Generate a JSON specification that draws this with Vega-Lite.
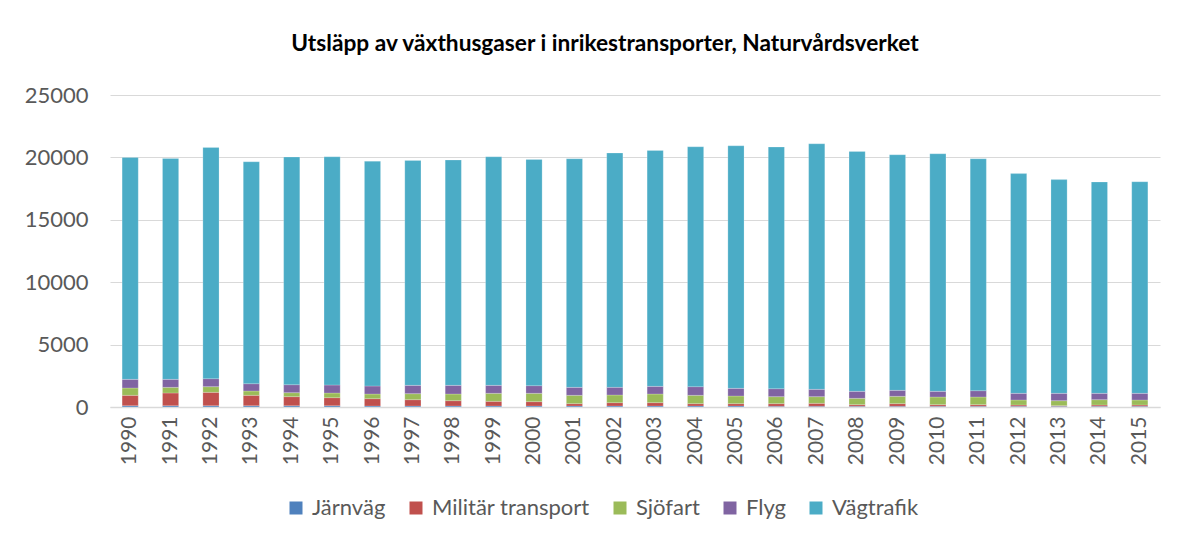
{
  "$schema": "https://vega.github.io/schema/vega-lite/v6.json",
  "width": 1050,
  "height": 312,
  "padding": {"left": 24, "top": 33, "right": 20, "bottom": 5},
  "background": "white",
  "config": {
    "font": "Lato",
    "view": {"stroke": null}
  },
  "title": {
    "text": "Utsläpp av växthusgaser i inrikestransporter, Naturvårdsverket",
    "fontSize": 22.7,
    "fontWeight": "bold",
    "color": "#000000",
    "anchor": "middle",
    "dx": -30,
    "offset": 28
  },
  "data": {
    "values": [
      {"year": "1990", "Järnväg": 100, "Militär transport": 835, "Sjöfart": 587, "Flyg": 694, "Vägtrafik": 17784},
      {"year": "1991", "Järnväg": 100, "Militär transport": 1021, "Sjöfart": 454, "Flyg": 641, "Vägtrafik": 17704},
      {"year": "1992", "Järnväg": 100, "Militär transport": 1075, "Sjöfart": 454, "Flyg": 641, "Vägtrafik": 18530},
      {"year": "1993", "Järnväg": 100, "Militär transport": 835, "Sjöfart": 347, "Flyg": 587, "Vägtrafik": 17781},
      {"year": "1994", "Järnväg": 100, "Militär transport": 728, "Sjöfart": 320, "Flyg": 641, "Vägtrafik": 18241},
      {"year": "1995", "Järnväg": 100, "Militär transport": 648, "Sjöfart": 373, "Flyg": 641, "Vägtrafik": 18288},
      {"year": "1996", "Järnväg": 80, "Militär transport": 588, "Sjöfart": 373, "Flyg": 641, "Vägtrafik": 18018},
      {"year": "1997", "Järnväg": 80, "Militär transport": 507, "Sjöfart": 481, "Flyg": 667, "Vägtrafik": 18025},
      {"year": "1998", "Järnväg": 80, "Militär transport": 427, "Sjöfart": 534, "Flyg": 694, "Vägtrafik": 18055},
      {"year": "1999", "Järnväg": 80, "Militär transport": 374, "Sjöfart": 641, "Flyg": 640, "Vägtrafik": 18315},
      {"year": "2000", "Järnväg": 80, "Militär transport": 347, "Sjöfart": 668, "Flyg": 614, "Vägtrafik": 18131},
      {"year": "2001", "Järnväg": 80, "Militär transport": 187, "Sjöfart": 668, "Flyg": 640, "Vägtrafik": 18315},
      {"year": "2002", "Järnväg": 80, "Militär transport": 267, "Sjöfart": 614, "Flyg": 614, "Vägtrafik": 18775},
      {"year": "2003", "Järnväg": 80, "Militär transport": 267, "Sjöfart": 694, "Flyg": 614, "Vägtrafik": 18905},
      {"year": "2004", "Järnväg": 80, "Militär transport": 187, "Sjöfart": 668, "Flyg": 694, "Vägtrafik": 19221},
      {"year": "2005", "Järnväg": 80, "Militär transport": 187, "Sjöfart": 614, "Flyg": 614, "Vägtrafik": 19435},
      {"year": "2006", "Järnväg": 60, "Militär transport": 207, "Sjöfart": 561, "Flyg": 640, "Vägtrafik": 19362},
      {"year": "2007", "Järnväg": 60, "Militär transport": 234, "Sjöfart": 534, "Flyg": 587, "Vägtrafik": 19675},
      {"year": "2008", "Järnväg": 60, "Militär transport": 127, "Sjöfart": 507, "Flyg": 561, "Vägtrafik": 19225},
      {"year": "2009", "Järnväg": 60, "Militär transport": 207, "Sjöfart": 587, "Flyg": 481, "Vägtrafik": 18875},
      {"year": "2010", "Järnväg": 60, "Militär transport": 127, "Sjöfart": 614, "Flyg": 454, "Vägtrafik": 19035},
      {"year": "2011", "Järnväg": 60, "Militär transport": 127, "Sjöfart": 614, "Flyg": 507, "Vägtrafik": 18582},
      {"year": "2012", "Järnväg": 60, "Militär transport": 100, "Sjöfart": 401, "Flyg": 534, "Vägtrafik": 17605},
      {"year": "2013", "Järnväg": 60, "Militär transport": 47, "Sjöfart": 400, "Flyg": 588, "Vägtrafik": 17125},
      {"year": "2014", "Järnväg": 60, "Militär transport": 100, "Sjöfart": 427, "Flyg": 508, "Vägtrafik": 16935},
      {"year": "2015", "Järnväg": 60, "Militär transport": 100, "Sjöfart": 401, "Flyg": 534, "Vägtrafik": 16955}
    ]
  },
  "transform": [
    {"fold": ["Järnväg", "Militär transport", "Sjöfart", "Flyg", "Vägtrafik"], "as": ["typ", "utslapp"]},
    {"window": [{"op": "row_number", "as": "ordning"}], "groupby": ["year"]}
  ],
  "mark": {"type": "bar", "stroke": "white", "strokeOpacity": 0.35, "strokeWidth": 0.6},
  "encoding": {
    "x": {
      "field": "year",
      "type": "ordinal",
      "scale": {"paddingInner": 0.6, "paddingOuter": 0.3},
      "axis": {
        "title": null,
        "labelAngle": -90,
        "labelFontSize": 21,
        "labelColor": "#595959",
        "labelPadding": 9,
        "ticks": false,
        "domainColor": "#d9d9d9",
        "domainWidth": 1.5
      }
    },
    "y": {
      "field": "utslapp",
      "type": "quantitative",
      "stack": "zero",
      "scale": {"domain": [0, 25000]},
      "axis": {
        "title": null,
        "values": [0, 5000, 10000, 15000, 20000, 25000],
        "format": "d",
        "labelFontSize": 22,
        "labelColor": "#595959",
        "labelPadding": 22,
        "ticks": false,
        "domain": false,
        "gridColor": "#d9d9d9",
        "gridWidth": 1.2,
        "minExtent": 83,
        "maxExtent": 83
      }
    },
    "color": {
      "field": "typ",
      "type": "nominal",
      "sort": ["Järnväg", "Militär transport", "Sjöfart", "Flyg", "Vägtrafik"],
      "scale": {
        "domain": ["Järnväg", "Militär transport", "Sjöfart", "Flyg", "Vägtrafik"],
        "range": ["#4F81BD", "#C0504D", "#9BBB59", "#8064A2", "#4BACC6"]
      },
      "legend": {
        "title": null,
        "orient": "none",
        "legendX": 175,
        "legendY": 402,
        "direction": "horizontal",
        "columns": 5,
        "symbolType": "square",
        "symbolSize": 169,
        "symbolStrokeWidth": 0,
        "labelFontSize": 22,
        "labelColor": "#595959",
        "columnPadding": 19,
        "labelOffset": 5
      }
    },
    "order": {"field": "ordning", "type": "quantitative", "sort": "ascending"}
  }
}
